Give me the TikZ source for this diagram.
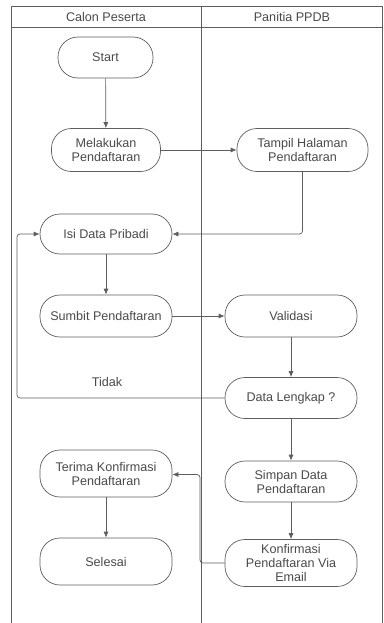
\documentclass[tikz,border=0pt]{standalone}
\usepackage{fontspec}
\setmainfont{Liberation Sans}
\usetikzlibrary{arrows.meta}
\definecolor{ln}{HTML}{5E5E5E}
\definecolor{tx}{HTML}{4A4A4A}
\begin{document}
\begin{tikzpicture}[x=1pt,y=-1pt,
  lane/.style={draw=ln,line width=0.7pt},
  proc/.style={draw=ln,line width=0.7pt,rectangle,rounded corners=20pt,
    minimum height=42pt,align=center,text=tx,inner sep=2pt,
    font=\fontsize{12.6}{14}\selectfont},
  arr/.style={draw=ln,line width=0.7pt,-{Latex[length=6pt,width=5pt]},rounded corners=3pt},
  lbl/.style={text=tx,font=\fontsize{12.6}{14}\selectfont}]
\useasboundingbox (0,0) rectangle (383,623);
% swimlanes
\draw[lane] (11,623) -- (11,6) -- (382.5,6) -- (382.5,623);
\draw[lane] (11,27) -- (382.5,27);
\draw[lane] (201,6) -- (201,623);
\node[lbl] (h1) at (106,17) {Calon Peserta};
\node[lbl] (h2) at (292,17) {Panitia PPDB};
% nodes
\node[proc,minimum width=95pt,minimum height=41pt] (start) at (105.5,57.5) {Start};
\node[proc,minimum width=109pt,minimum height=43pt] (mel) at (106,150) {Melakukan\\Pendaftaran};
\node[proc,minimum width=131pt,minimum height=43pt] (tam) at (302.5,150) {Tampil Halaman\\Pendaftaran};
\node[proc,minimum width=132pt,minimum height=40pt] (isi) at (106,234) {Isi Data Pribadi};
\node[proc,minimum width=132pt,minimum height=42pt] (sum) at (106,316) {Sumbit Pendaftaran};
\node[proc,minimum width=132pt,minimum height=42pt] (val) at (291,316) {Validasi};
\node[proc,minimum width=132pt,minimum height=41pt] (dl) at (291,398) {Data Lengkap ?};
\node[proc,minimum width=132pt,minimum height=41pt] (sim) at (291,481.5) {Simpan Data\\Pendaftaran};
\node[proc,minimum width=132pt,minimum height=47pt] (kon) at (291,563) {Konfirmasi\\Pendaftaran Via\\Email};
\node[proc,minimum width=132pt,minimum height=47pt] (ter) at (106,473.5) {Terima Konfirmasi\\Pendaftaran};
\node[proc,minimum width=132pt,minimum height=47pt] (sel) at (106,561.5) {Selesai};
\node[lbl] (tidak) at (107,382) {Tidak};
% connectors
\coordinate (lp) at (17,398);
\coordinate (kp) at (200,563);
\draw[arr] (start) -- (mel);
\draw[arr] (mel) -- (tam);
\draw[arr] (tam.south) |- (isi.east);
\draw[arr] (isi) -- (sum);
\draw[arr] (sum) -- (val);
\draw[arr] (val) -- (dl);
\draw[arr] (dl.west) -- (lp) |- (isi.west);
\draw[arr] (dl) -- (sim);
\draw[arr] (sim) -- (kon);
\draw[arr] (kon.west) -- (kp) |- ([yshift=-1pt]ter.east);
\draw[arr] (ter) -- (sel);
\end{tikzpicture}
\end{document}
